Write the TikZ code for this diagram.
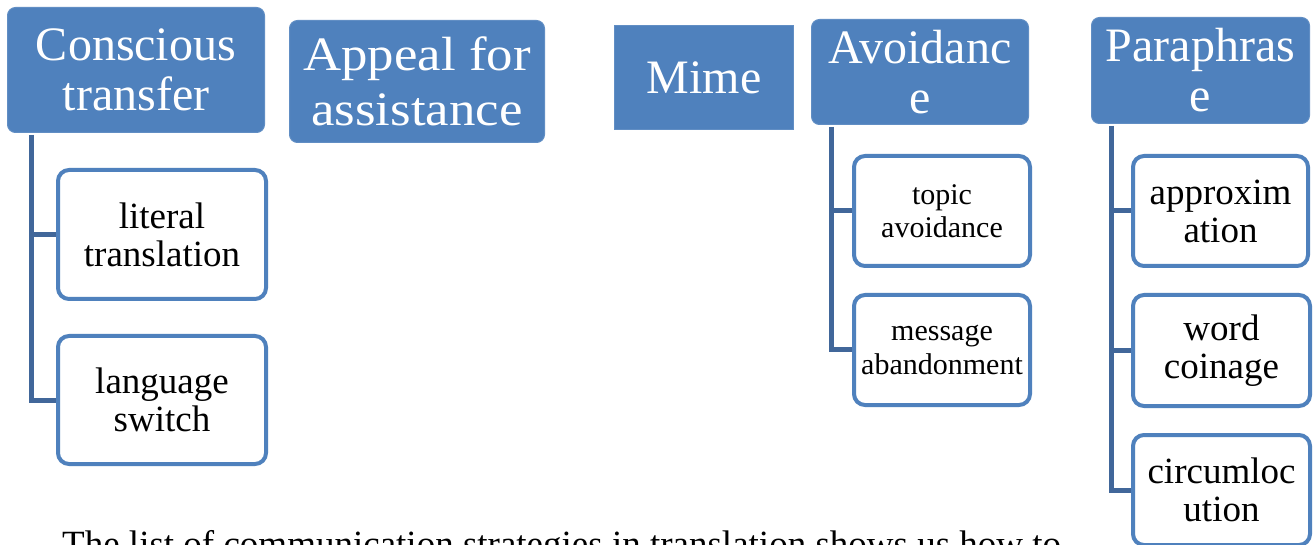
\documentclass[tikz,border=0pt]{standalone}
\usepackage{fontspec}
\setmainfont{Liberation Serif}
\newfontfamily\wideserif{Liberation Serif}[FakeStretch=1.1]
\definecolor{accent}{HTML}{4F81BD}
\definecolor{linkc}{HTML}{41679A}
\tikzset{
  topbox/.style={fill=accent, draw=accent!90!white, line width=1pt, rounded corners=8pt, text=white, align=center, inner sep=0pt},
  subbox/.style={fill=white, draw=accent, line width=4pt, rounded corners=11pt, text=black, align=center, inner sep=0pt},
  conn/.style={draw=linkc, line width=5pt},
  big/.style={font=\fontsize{48}{50}\selectfont},
  mid/.style={font=\fontsize{37}{38}\selectfont},
  small/.style={font=\fontsize{30}{33.5}\selectfont},
}
\begin{document}
\begin{tikzpicture}[x=1pt, y=-1pt]
\useasboundingbox (0,0) rectangle (1315,545);
\fill[white] (0,0) rectangle (1315,545);

% top-level boxes
\node[topbox, big, minimum width=257pt, minimum height=125pt] (ct) at (136,70) {Conscious\\transfer};
\node[topbox, font=\wideserif\fontsize{48}{55}\selectfont, minimum width=255pt, minimum height=122pt] (aa) at (417,81.5) {Appeal for\\assistance};
\node[topbox, big, rounded corners=0pt, minimum width=179pt, minimum height=104pt] (mime) at (704,77.5) {Mime};
\node[topbox, big, minimum width=217pt, minimum height=105pt] (av) at (920,72) {Avoidanc\\e};
\node[topbox, big, minimum width=218pt, minimum height=106pt] (pa) at (1200.5,70.5) {Paraphras\\e};

% sub boxes
\node[subbox, mid, minimum width=208pt, minimum height=129pt] (lt) at (162,234.5) {literal\\translation};
\node[subbox, mid, minimum width=208pt, minimum height=128pt] (ls) at (162,400) {language\\switch};
\node[subbox, small, minimum width=176pt, minimum height=110pt] (ta) at (942,211) {topic\\avoidance};
\node[subbox, small, minimum width=176pt, minimum height=110pt] (ma) at (942,350) {message\\abandonment};
\node[subbox, mid, minimum width=175pt, minimum height=110pt] (ap) at (1220.5,211) {approxim\\ation};
\node[subbox, mid, minimum width=177pt, minimum height=111pt] (wc) at (1221.5,350.5) {word\\coinage};
\node[subbox, mid, minimum width=177pt, minimum height=110pt] (cl) at (1221.5,490) {circumloc\\ution};

% connectors
\coordinate (ctv) at (31,135);
\coordinate (avv) at (831,127);
\coordinate (pav) at (1111,126);
\draw[conn] (ctv) |- (ls.west);
\draw[conn] (ctv |- lt.west) -- (lt.west);
\draw[conn] (avv) |- (ma.west);
\draw[conn] (avv |- ta.west) -- (ta.west);
\draw[conn] (pav) |- (cl.west);
\draw[conn] (pav |- ap.west) -- (ap.west);
\draw[conn] (pav |- wc.west) -- (wc.west);

% partially visible body text
\node[anchor=base west, inner sep=0pt, font=\fontsize{37}{40}\selectfont] (body) at (62,556) {The list of communication strategies in translation shows us how to};
\end{tikzpicture}
\end{document}
